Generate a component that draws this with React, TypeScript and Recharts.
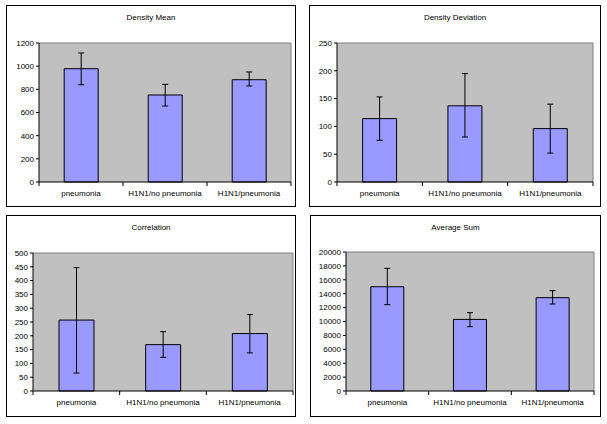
import React from 'react';
import { BarChart, Bar, XAxis, YAxis, CartesianGrid, ErrorBar } from 'recharts';

const categories = ['pneumonia', 'H1N1/no pneumonia', 'H1N1/pneumonia'];

const densityMean = [978, 751, 883];
const densityMeanLow = [840, 656, 829];
const densityMeanHigh = [1114, 843, 950];
const densityMeanTicks = [0, 200, 400, 600, 800, 1000, 1200];

const densityDev = [114, 137, 96];
const densityDevLow = [75, 81, 52];
const densityDevHigh = [153, 195, 140];
const densityDevTicks = [0, 50, 100, 150, 200, 250];

const correlation = [257, 168, 208];
const correlationLow = [65, 122, 138];
const correlationHigh = [447, 215, 277];
const correlationTicks = [0, 50, 100, 150, 200, 250, 300, 350, 400, 450, 500];

const avgSum = [15000, 10300, 13430];
const avgSumLow = [12420, 9260, 12520];
const avgSumHigh = [17650, 11270, 14440];
const avgSumTicks = [0, 2000, 4000, 6000, 8000, 10000, 12000, 14000, 16000, 18000, 20000];

const FONT = '"Liberation Sans", Arial, sans-serif';

const buildRows = (values: number[], low: number[], high: number[]) =>
  categories.map((name, i) => ({
    name,
    value: values[i],
    err: [values[i] - low[i], high[i] - values[i]],
  }));

// category label plus Excel-style tick marks at the category boundaries
const CategoryTick = (props: any) => {
  const { x, y, payload, index, visibleTicksCount } = props;
  const half = payload && payload.offset ? payload.offset : 42;
  const last = index === (visibleTicksCount ?? 3) - 1;
  return (
    <g>
      <line x1={x - half} y1={y} x2={x - half} y2={y + 4} stroke="#000" />
      {last && <line x1={x + half} y1={y} x2={x + half} y2={y + 4} stroke="#000" />}
      <text x={x} y={y + 14} textAnchor="middle" fontSize={8} fontFamily={FONT} fill="#000">
        {payload.value}
      </text>
    </g>
  );
};

type PanelProps = {
  title: string;
  rows: { name: string; value: number; err: number[] }[];
  ticks: number[];
  box: { left: number; top: number; width: number; height: number };
  yWidth: number;
  mTop: number;
  mRight: number;
  xHeight: number;
};

const Panel = ({ title, rows, ticks, box, yWidth, mTop, mRight, xHeight }: PanelProps) => (
  <>
    <div
      style={{
        position: 'absolute',
        left: box.left,
        top: box.top,
        width: box.width,
        height: box.height,
        border: '1px solid #000',
        boxSizing: 'border-box',
      }}
    />
    <div
      style={{
        position: 'absolute',
        left: box.left,
        top: box.top + 8,
        width: box.width,
        textAlign: 'center',
        fontFamily: FONT,
        fontSize: 8,
        lineHeight: '10px',
        color: '#000',
      }}
    >
      {title}
    </div>
    <div style={{ position: 'absolute', left: box.left, top: box.top }}>
      <BarChart
        width={box.width}
        height={box.height}
        data={rows}
        margin={{ top: mTop, right: mRight, bottom: 0, left: 0 }}
        barCategoryGap="30%"
      >
        <CartesianGrid
          fill="#C0C0C0"
          stroke="#808080"
          horizontalCoordinatesGenerator={({ offset }: any) => [offset.top]}
          verticalCoordinatesGenerator={({ offset }: any) => [offset.left + offset.width]}
        />
        <XAxis
          dataKey="name"
          height={xHeight}
          tickLine={false}
          tickSize={0}
          tickMargin={0}
          interval={0}
          axisLine={{ stroke: '#000' }}
          tick={<CategoryTick />}
        />
        <YAxis
          width={yWidth}
          domain={[ticks[0], ticks[ticks.length - 1]]}
          ticks={ticks}
          interval={0}
          tickSize={3}
          tickMargin={2}
          axisLine={{ stroke: '#000' }}
          tickLine={{ stroke: '#000' }}
          tick={{ fontSize: 8, fontFamily: FONT, fill: '#000' }}
        />
        <Bar dataKey="value" fill="#9999FF" stroke="#000" strokeWidth={1} isAnimationActive={false}>
          <ErrorBar dataKey="err" width={3} stroke="#000" strokeWidth={1} isAnimationActive={false} />
        </Bar>
      </BarChart>
    </div>
  </>
);

export default function App() {
  return (
    <div
      style={{
        position: 'absolute',
        left: 0,
        top: 0,
        width: 607,
        height: 424,
        background: '#fff',
        overflow: 'hidden',
      }}
    >
      <Panel
        title="Density Mean"
        rows={buildRows(densityMean, densityMeanLow, densityMeanHigh)}
        ticks={densityMeanTicks}
        box={{ left: 6, top: 5, width: 290, height: 202 }}
        yWidth={33}
        mTop={38}
        mRight={5}
        xHeight={25}
      />
      <Panel
        title="Density Deviation"
        rows={buildRows(densityDev, densityDevLow, densityDevHigh)}
        ticks={densityDevTicks}
        box={{ left: 309, top: 5, width: 292, height: 202 }}
        yWidth={28}
        mTop={38}
        mRight={8}
        xHeight={25}
      />
      <Panel
        title="Correlation"
        rows={buildRows(correlation, correlationLow, correlationHigh)}
        ticks={correlationTicks}
        box={{ left: 6, top: 215, width: 290, height: 202 }}
        yWidth={27}
        mTop={38}
        mRight={3}
        xHeight={26}
      />
      <Panel
        title="Average Sum"
        rows={buildRows(avgSum, avgSumLow, avgSumHigh)}
        ticks={avgSumTicks}
        box={{ left: 310, top: 215, width: 291, height: 202 }}
        yWidth={36}
        mTop={37}
        mRight={7}
        xHeight={26}
      />
    </div>
  );
}
